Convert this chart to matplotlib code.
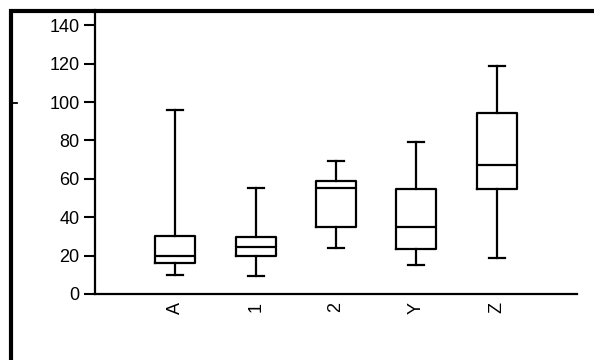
import matplotlib
matplotlib.use("Agg")
import matplotlib.pyplot as plt
from matplotlib.lines import Line2D

categories = ["A", "1", "2", "Y", "Z"]
whislo = [10, 9.5, 24, 15, 19]
q1 = [16, 20, 35, 23.5, 54.5]
med = [20, 24.3, 55, 35, 67]
q3 = [30, 29.5, 59, 54.5, 94.5]
whishi = [96, 55, 69.5, 79, 119]
yticks = [0, 20, 40, 60, 80, 100, 120, 140]

plt.rcParams["font.family"] = ["Liberation Sans", "DejaVu Sans"]

fig = plt.figure(figsize=(5.94, 3.6), dpi=100)
fig.patch.set_facecolor("white")
ax = fig.add_axes([95/594, 1 - 294/360, (577 - 95)/594, (294 - 10)/360])

stats = []
for i, c in enumerate(categories):
    stats.append(dict(label=c, whislo=whislo[i], q1=q1[i], med=med[i],
                      q3=q3[i], whishi=whishi[i], fliers=[]))

lw = 1.6
ax.bxp(stats, positions=range(1, len(categories) + 1), widths=0.5,
       showfliers=False,
       boxprops=dict(color="black", linewidth=lw),
       medianprops=dict(color="black", linewidth=lw),
       whiskerprops=dict(color="black", linewidth=lw),
       capprops=dict(color="black", linewidth=lw),
       capwidths=0.2)

ax.set_xlim(0, 6)
ax.set_ylim(0, 148)
ax.set_yticks(yticks)
ax.set_yticklabels([str(v) for v in yticks], fontsize=13)
ax.set_xticks(range(1, len(categories) + 1))
ax.set_xticklabels(categories, rotation=90, fontsize=13)
ax.tick_params(axis="y", length=8, width=1.5, pad=3, direction="out")
ax.tick_params(axis="x", length=0, pad=6)
ax.spines["top"].set_visible(False)
ax.spines["right"].set_visible(False)
ax.spines["left"].set_linewidth(1.6)
ax.spines["bottom"].set_linewidth(1.6)

# Outer frame (scanned page border)
fig.add_artist(Line2D([11/594, 11/594], [0, 1 - 9/360], transform=fig.transFigure,
                      color="black", linewidth=3, solid_capstyle="butt"))
fig.add_artist(Line2D([9/594, 1], [1 - 11/360, 1 - 11/360], transform=fig.transFigure,
                      color="black", linewidth=3, solid_capstyle="butt"))
fig.add_artist(Line2D([11/594, 17/594], [1 - 103/360, 1 - 103/360], transform=fig.transFigure,
                      color="black", linewidth=1.3))

fig.savefig("out.png", dpi=100, facecolor="white")
